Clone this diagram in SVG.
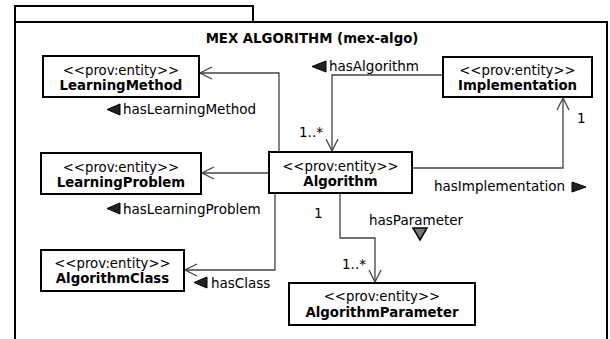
<svg xmlns="http://www.w3.org/2000/svg" width="610" height="339" viewBox="0 0 610 339">
<defs>
<style>
.box{fill:#fff;stroke:#000;stroke-width:2}
.frame{fill:#fff;stroke:#000;stroke-width:2}
.st{font-family:"DejaVu Sans",sans-serif;font-size:13.3px;fill:#000;text-anchor:middle}
.nm{font-family:"DejaVu Sans",sans-serif;font-size:13.3px;font-weight:bold;fill:#000;text-anchor:middle}
.lbl{font-family:"DejaVu Sans",sans-serif;font-size:13.5px;fill:#000}
.conn{fill:none;stroke:#444;stroke-width:1.3}
.tri{fill:#222;stroke:#000;stroke-width:1}
</style>
<marker id="open" markerUnits="userSpaceOnUse" markerWidth="14" markerHeight="14" viewBox="0 0 14 14" refX="13" refY="7" orient="auto">
<path d="M1,1 L13,7 L1,13" fill="none" stroke="#444" stroke-width="1.3"/>
</marker>
</defs>
<rect width="610" height="339" fill="#fff"/>
<g id="frame">
<path class="frame" d="M15,22 L15,6 L253,6 L253,22"/>
<path class="frame" d="M15,345 L15,22 L607,22 L607,345"/>
<text class="nm" x="312" y="43">MEX ALGORITHM (mex-algo)</text>
</g>
<g id="connectors">
<path class="conn" d="M279,152 L279,73 L200,73" marker-end="url(#open)"/>
<path class="conn" d="M269,173 L202,173" marker-end="url(#open)"/>
<path class="conn" d="M275,193 L275,270 L185,270" marker-end="url(#open)"/>
<path class="conn" d="M443,75 L332,75 L332,151" marker-end="url(#open)"/>
<path class="conn" d="M412,168 L563,168 L563,98" marker-end="url(#open)"/>
<path class="conn" d="M340,193 L340,238 L375,238 L375,282" marker-end="url(#open)"/>
<polygon class="tri" points="120,104 120,115 107,109.5"/>
<text class="lbl" x="123" y="114">hasLearningMethod</text>
<polygon class="tri" points="120,203 120,214 107,208.5"/>
<text class="lbl" x="123" y="214">hasLearningProblem</text>
<polygon class="tri" points="207,277 207,288 194,282.5"/>
<text class="lbl" x="211" y="288">hasClass</text>
<polygon class="tri" points="326,61 326,72 312,66.5"/>
<text class="lbl" x="329" y="71">hasAlgorithm</text>
<text class="lbl" x="299" y="137">1..*</text>
<text class="lbl" x="577" y="123">1</text>
<text class="lbl" x="434" y="191">hasImplementation</text>
<polygon class="tri" points="572,182 572,192 586,187"/>
<text class="lbl" x="314" y="218">1</text>
<text class="lbl" x="369" y="225">hasParameter</text>
<polygon points="413,228 427,228 420,240" fill="#777" stroke="#000" stroke-width="1.5"/>
<text class="lbl" x="342" y="269">1..*</text>
</g>
<g id="LearningMethod">
<rect class="box" x="43" y="56" width="156" height="41"/>
<text class="st" x="121" y="75">&lt;&lt;prov:entity&gt;&gt;</text>
<text class="nm" x="121" y="90">LearningMethod</text>
</g>
<g id="LearningProblem">
<rect class="box" x="41" y="153" width="160" height="41"/>
<text class="st" x="121" y="172">&lt;&lt;prov:entity&gt;&gt;</text>
<text class="nm" x="121" y="187">LearningProblem</text>
</g>
<g id="AlgorithmClass">
<rect class="box" x="41" y="250" width="143" height="41"/>
<text class="st" x="112.5" y="268">&lt;&lt;prov:entity&gt;&gt;</text>
<text class="nm" x="112.5" y="283">AlgorithmClass</text>
</g>
<g id="Implementation">
<rect class="box" x="443" y="57" width="149" height="40"/>
<text class="st" x="517.5" y="75">&lt;&lt;prov:entity&gt;&gt;</text>
<text class="nm" x="517.5" y="90">Implementation</text>
</g>
<g id="Algorithm">
<rect class="box" x="269" y="152" width="143" height="41"/>
<text class="st" x="340.5" y="171">&lt;&lt;prov:entity&gt;&gt;</text>
<text class="nm" x="340.5" y="186">Algorithm</text>
</g>
<g id="AlgorithmParameter">
<rect class="box" x="289" y="283" width="186" height="42"/>
<text class="st" x="382" y="301">&lt;&lt;prov:entity&gt;&gt;</text>
<text class="nm" x="382" y="317">AlgorithmParameter</text>
</g>
</svg>
